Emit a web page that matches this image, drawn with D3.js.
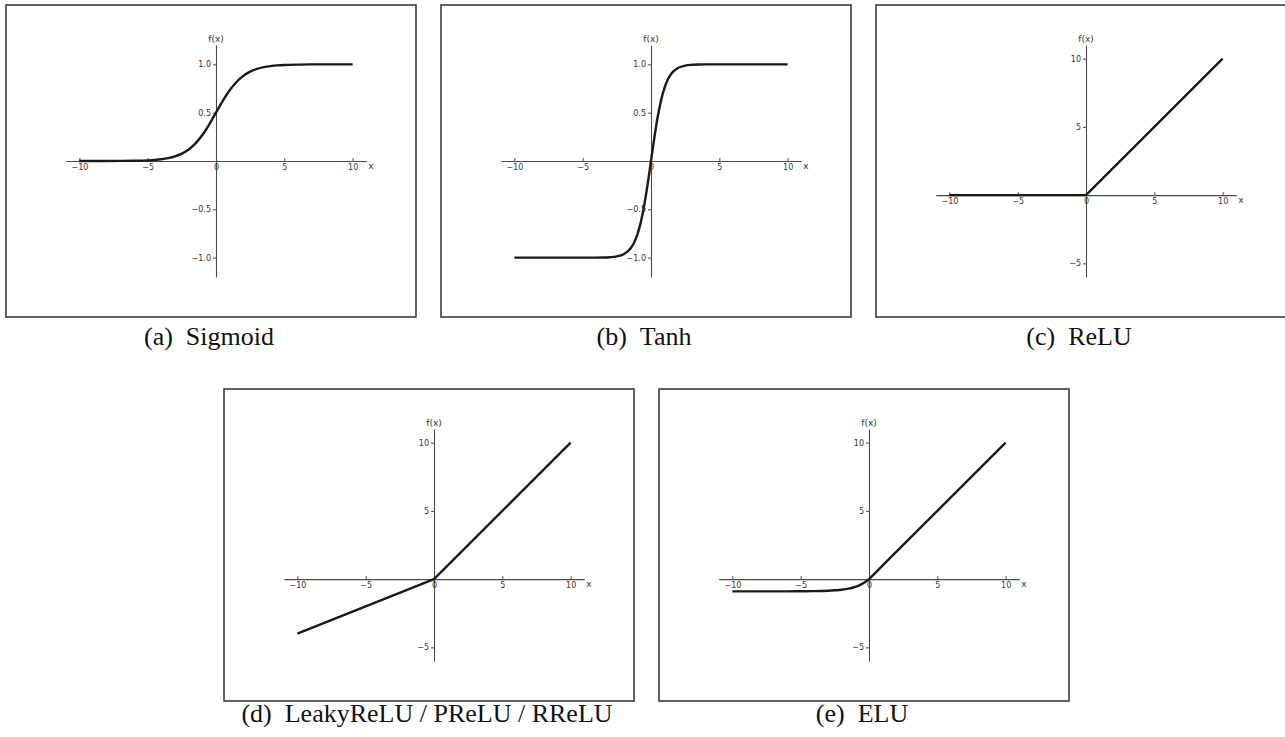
<!DOCTYPE html>
<html>
<head>
<meta charset="utf-8">
<script src="https://cdn.jsdelivr.net/npm/d3@7"></script>
<style>
  body { margin: 0; background: #fff; }
  svg { display: block; }
</style>
</head>
<body>
<div id="figure"></div>
<script>
// Values
var captions = ["(a)\u00a0\u00a0Sigmoid", "(b)\u00a0\u00a0Tanh", "(c)\u00a0\u00a0ReLU",
                "(d)\u00a0\u00a0LeakyReLU / PReLU / RReLU", "(e)\u00a0\u00a0ELU"];
var xTickValues = [-10, -5, 0, 5, 10];
var boundedTicks = [1.0, 0.5, -0.5, -1.0];
var linearTicks = [10, 5, -5];

var sigmoidX = [-10, -9, -8, -7, -6, -5, -4.5, -4, -3.5, -3, -2.5, -2, -1.5, -1, -0.5, 0,
                0.5, 1, 1.5, 2, 2.5, 3, 3.5, 4, 4.5, 5, 6, 7, 8, 9, 10];
var sigmoidY = [0.0000454, 0.000123, 0.000335, 0.000911, 0.00247, 0.00669, 0.0110, 0.0180, 0.0293,
                0.0474, 0.0759, 0.1192, 0.1824, 0.2689, 0.3775, 0.5,
                0.6225, 0.7311, 0.8176, 0.8808, 0.9241, 0.9526, 0.9707, 0.9820, 0.9890, 0.9933,
                0.9975, 0.9991, 0.9997, 0.9999, 1.0];

var tanhX = [-10, -8, -6, -5, -4, -3.5, -3, -2.5, -2, -1.5, -1.25, -1, -0.75, -0.5, -0.25, 0,
             0.25, 0.5, 0.75, 1, 1.25, 1.5, 2, 2.5, 3, 3.5, 4, 5, 6, 8, 10];
var tanhY = [-1.0, -1.0, -1.0, -0.9999, -0.9993, -0.9982, -0.9951, -0.9866, -0.9640, -0.9051,
             -0.8483, -0.7616, -0.6351, -0.4621, -0.2449, 0,
             0.2449, 0.4621, 0.6351, 0.7616, 0.8483, 0.9051, 0.9640, 0.9866, 0.9951, 0.9982,
             0.9993, 0.9999, 1.0, 1.0, 1.0];

var reluX = [-10, 0, 10];
var reluY = [0, 0, 10];

var leakyX = [-10, 0, 10];
var leakyY = [-4, 0, 10];

var eluX = [-10, -8, -6, -5, -4, -3, -2.5, -2, -1.5, -1, -0.75, -0.5, -0.25, 0, 0.5, 1, 10];
var eluY = [-0.9, -0.9, -0.9, -0.89, -0.88, -0.85, -0.82, -0.78, -0.70, -0.57, -0.47, -0.35, -0.2, 0, 0.5, 1, 10];

///////////////////////// Layout ///////////////////////////////
var width = 1285, height = 737;
var boxW = 410, boxH = 312;

var panels = [
  {x: 6,   y: 5,   xs: sigmoidX, ys: sigmoidY, yDom: [-1.2, 1.2], yTicks: boundedTicks, fmt: d3.format(".1f"), curve: d3.curveMonotoneX},
  {x: 441, y: 5,   xs: tanhX,    ys: tanhY,    yDom: [-1.2, 1.2], yTicks: boundedTicks, fmt: d3.format(".1f"), curve: d3.curveMonotoneX},
  {x: 876, y: 5,   xs: reluX,    ys: reluY,    yDom: [-6, 11],    yTicks: linearTicks,  fmt: d3.format("d"),   curve: d3.curveLinear},
  {x: 224, y: 389, xs: leakyX,   ys: leakyY,   yDom: [-6, 11],    yTicks: linearTicks,  fmt: d3.format("d"),   curve: d3.curveLinear},
  {x: 659, y: 389, xs: eluX,     ys: eluY,     yDom: [-6, 11],    yTicks: linearTicks,  fmt: d3.format("d"),   curve: d3.curveMonotoneX}
];

var svg = d3.select("#figure")
  .append("svg")
  .attr("width", width)
  .attr("height", height);

var minus = function(s) { return String(s).replace("-", "\u2212"); };

panels.forEach(function(p, i) {
  var g = svg.append("g").attr("transform", "translate(" + p.x + "," + p.y + ")");

  g.append("rect")
   .attr("x", 0).attr("y", 0)
   .attr("width", boxW).attr("height", boxH)
   .style("fill", "none")
   .style("stroke", "#3a3a3a")
   .style("stroke-width", 1.6);

  var x = d3.scaleLinear().domain([-11, 11]).range([59.7, 360.3]);
  var y = d3.scaleLinear().domain(p.yDom).range([272, 40]);

  // x axis through y = 0, ticks pointing up
  var xAxis = g.append("g")
    .attr("transform", "translate(0," + y(0) + ")")
    .call(d3.axisBottom(x).tickValues(xTickValues)
             .tickSizeInner(-3).tickSizeOuter(0).tickPadding(3)
             .tickFormat(minus));

  // y axis through x = 0
  var yAxis = g.append("g")
    .attr("transform", "translate(" + x(0) + ",0)")
    .call(d3.axisLeft(y).tickValues(p.yTicks)
             .tickSizeInner(3).tickSizeOuter(0).tickPadding(2)
             .tickFormat(function(d) { return minus(p.fmt(d)); }));

  [xAxis, yAxis].forEach(function(a) {
    a.attr("color", "#4a4a4a")
     .attr("font-family", "'DejaVu Sans', sans-serif")
     .attr("font-size", 8);
    a.selectAll("text").style("fill", "#333");
    a.select(".domain").style("stroke-width", 1.1);
  });

  g.append("text")
   .attr("x", x(0)).attr("y", 37)
   .attr("text-anchor", "middle")
   .style("font-family", "'DejaVu Sans', sans-serif")
   .style("font-size", "9px")
   .style("fill", "#333")
   .text("f(x)");

  g.append("text")
   .attr("x", x(11) + 2).attr("y", y(0) + 8)
   .style("font-family", "'DejaVu Sans', sans-serif")
   .style("font-size", "9px")
   .style("fill", "#333")
   .text("x");

  var line = d3.line()
    .x(function(d) { return x(d[0]); })
    .y(function(d) { return y(d[1]); })
    .curve(p.curve);

  g.append("path")
   .datum(d3.zip(p.xs, p.ys))
   .attr("d", line)
   .style("fill", "none")
   .style("stroke", "#1a1a1a")
   .style("stroke-width", 2.4)
   .style("stroke-linejoin", "round");

  svg.append("text")
     .attr("x", p.x + boxW / 2 - 2)
     .attr("y", p.y + (i < 3 ? 340 : 333))
     .attr("text-anchor", "middle")
     .style("font-family", "'Liberation Serif', 'Times New Roman', serif")
     .style("font-size", "26px")
     .style("fill", "#111")
     .text(captions[i]);
});
</script>
</body>
</html>
